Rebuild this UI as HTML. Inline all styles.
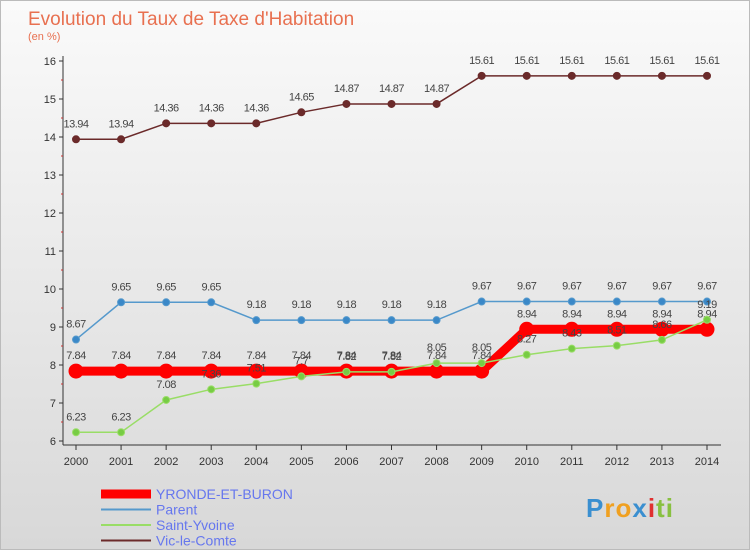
<!DOCTYPE html>
<html><head><meta charset="utf-8"><style>
body{margin:0;width:750px;height:550px;overflow:hidden;font-family:"Liberation Sans",sans-serif}
#wrap{position:absolute;left:0;top:0;width:748px;height:548px;border:1px solid #bbb;background:linear-gradient(#fafafa,#d8d8d8)}
</style></head><body>
<div id="wrap">
<svg id="svg" width="750" height="550" style="position:absolute;left:0;top:0"></svg>
</div>
<script>
const years=[2000,2001,2002,2003,2004,2005,2006,2007,2008,2009,2010,2011,2012,2013,2014];
const yronde=[7.84,7.84,7.84,7.84,7.84,7.84,7.84,7.84,7.84,7.84,8.94,8.94,8.94,8.94,8.94];
const parent=[8.67,9.65,9.65,9.65,9.18,9.18,9.18,9.18,9.18,9.67,9.67,9.67,9.67,9.67,9.67];
const stYvoine=[6.23,6.23,7.08,7.36,7.51,7.7,7.82,7.82,8.05,8.05,8.27,8.43,8.51,8.66,9.19];
const vic=[13.94,13.94,14.36,14.36,14.36,14.65,14.87,14.87,14.87,15.61,15.61,15.61,15.61,15.61,15.61];
const yTicks=[6,7,8,9,10,11,12,13,14,15,16];
const NS='http://www.w3.org/2000/svg',svg=document.getElementById('svg');
const xs=i=>75+i*(706-75)/14, ys=v=>440-(v-6)*38;
function mk(t,a,p){const e=document.createElementNS(NS,t);for(const k in a)e.setAttribute(k,a[k]);(p||svg).appendChild(e);return e;}
let t=mk('text',{x:27,y:24,'font-size':19,fill:'#e87050'});t.textContent='Evolution du Taux de Taxe d\'Habitation';

t=mk('text',{x:27,y:39,'font-size':11,fill:'#e87050'});t.textContent='(en %)';

let ax=mk('line',{x1:62,y1:55,x2:62,y2:444,stroke:'#333'});

ax=mk('line',{x1:62,y1:444,x2:720,y2:444,stroke:'#333'});

yTicks.forEach(v=>{mk('line',{x1:58,y1:ys(v),x2:62,y2:ys(v),stroke:'#333'});
 if(v<16)mk('line',{x1:60,y1:ys(v+0.5),x2:62,y2:ys(v+0.5),stroke:'#c33'});
 const l=mk('text',{x:55,y:ys(v)+4,'font-size':11,fill:'#333','text-anchor':'end'});l.textContent=v;
 });
years.forEach((y,i)=>{mk('line',{x1:xs(i),y1:444,x2:xs(i),y2:449,stroke:'#333'});
 const l=mk('text',{x:xs(i),y:464,'font-size':11,fill:'#333','text-anchor':'middle'});l.textContent=y;
 });
function series(data,color,w,r,name,dot){
 const g=mk('g',{});
 mk('polyline',{points:data.map((v,i)=>xs(i)+','+ys(v)).join(' '),fill:'none',stroke:color,'stroke-width':w},g);
 data.forEach((v,i)=>{const c=mk('circle',{cx:xs(i),cy:ys(v),r:r,fill:dot,stroke:color,'stroke-width':1},g);
  
  const l=mk('text',{x:xs(i),y:ys(v)-12,'font-size':11,fill:'#444','text-anchor':'middle','letter-spacing':'-0.5'},g);l.textContent=v;});
}
series(vic,'#6b2a2a',1.5,3.5,'series-vic-le-comte','#6b2a2a');
series(parent,'#5599cc',1.5,3.5,'series-parent','#3a88c8');
series(yronde,'#ff0000',9,7,'series-yronde-et-buron','#ff0000');
series(stYvoine,'#99dd66',1.5,3.5,'series-saint-yvoine','#77cc44');
const leg=[['YRONDE-ET-BURON','#ff0000',9],['Parent','#5599cc',2],['Saint-Yvoine','#99dd66',2],['Vic-le-Comte','#6b2a2a',2]];
leg.forEach((e,i)=>{const y=493+i*15.5;const g=mk('g',{});
 mk('line',{x1:100,y1:y,x2:150,y2:y,stroke:e[1],'stroke-width':e[2]},g);
 const l=mk('text',{x:155,y:y+5,'font-size':14,fill:'#6677ee'},g);l.textContent=e[0];});
const logo=mk('text',{x:585,y:516,'font-size':26,'font-weight':'bold','letter-spacing':'1'});

[['P','#3a8fd0'],['ro','#f0a020'],['x','#3a8fd0'],['i','#e03030'],['ti','#88c040']].forEach(p=>{const s=mk('tspan',{fill:p[1]},logo);s.textContent=p[0];});
</script>
</body></html>
